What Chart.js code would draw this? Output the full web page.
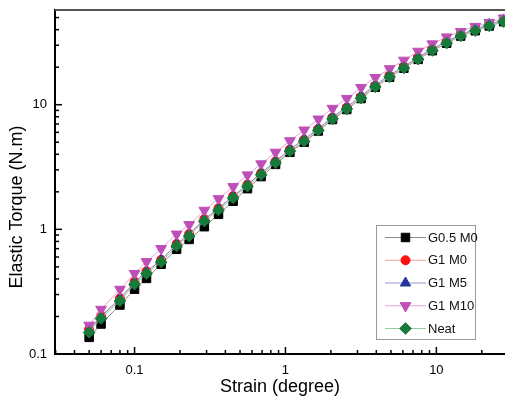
<!DOCTYPE html>
<html><head><meta charset="utf-8">
<script src="https://cdn.jsdelivr.net/npm/chart.js@4.4.1/dist/chart.umd.min.js"></script>
<style>html,body{margin:0;padding:0;background:#fff;}canvas{display:block;}</style>
</head><body>
<canvas id="c" width="505" height="400" style="width:505px;height:400px"></canvas>
<script>
// ---- data ----
const strain = [0.05, 0.06, 0.08, 0.1, 0.12, 0.15, 0.19, 0.23, 0.29, 0.36, 0.45, 0.56, 0.69, 0.86, 1.07,
                1.33, 1.65, 2.05, 2.55, 3.17, 3.94, 4.9, 6.09, 7.57, 9.4, 11.7, 14.5, 18.1, 22.4, 27.9];
const g05m0 = [0.136, 0.174, 0.247, 0.331, 0.404, 0.525, 0.692, 0.83, 1.05, 1.32, 1.68, 2.12, 2.65, 3.32, 4.15,
               5.0, 6.15, 7.6, 9.15, 11.2, 13.8, 16.6, 19.6, 23.1, 27.1, 31.1, 35.5, 39.2, 42.8, 46.3];
const g1m0  = [0.158, 0.203, 0.28, 0.38, 0.462, 0.57, 0.765, 0.92, 1.21, 1.48, 1.85, 2.29, 2.83, 3.52, 4.37,
               5.24, 6.4, 7.9, 9.5, 11.6, 14.2, 17.1, 20.2, 23.7, 27.8, 31.9, 36.3, 40.1, 43.7, 47.2];
const g1m5  = [0.155, 0.2, 0.276, 0.375, 0.456, 0.565, 0.757, 0.91, 1.2, 1.47, 1.84, 2.28, 2.83, 3.52, 4.4,
               5.28, 6.46, 7.98, 9.6, 11.75, 14.4, 17.3, 20.4, 24.0, 28.1, 32.2, 36.6, 40.4, 44.0, 47.6];
const g1m10 = [0.17, 0.228, 0.33, 0.442, 0.55, 0.70, 0.915, 1.09, 1.42, 1.76, 2.2, 2.73, 3.35, 4.15, 5.13,
               6.25, 7.66, 9.33, 11.2, 13.7, 16.5, 19.4, 22.7, 26.8, 30.7, 34.9, 38.6, 42.4, 45.6, 49.5];
const neat  = [0.149, 0.193, 0.267, 0.363, 0.442, 0.548, 0.735, 0.884, 1.165, 1.43, 1.79, 2.22, 2.75, 3.42, 4.25,
               5.09, 6.23, 7.69, 9.24, 11.3, 13.9, 16.7, 19.7, 23.2, 27.2, 31.2, 35.6, 39.3, 42.9, 46.4];
const seriesNames = ['G0.5 M0', 'G1 M0', 'G1 M5', 'G1 M10', 'Neat'];
const seriesValues = [g05m0, g1m0, g1m5, g1m10, neat];
const xTickLabels = [0.1, 1, 10];
const yTickLabels = [0.1, 1, 10];
const xTitle = 'Strain (degree)';
const yTitle = 'Elastic Torque (N.m)';

// ---- styles ----
const styles = [
  {marker:'#000000', line:'#8c8c8c', pointStyle:'rect', radius:6.0, rotation:0, order:5},
  {marker:'#ff1010', line:'#f4a0a0', pointStyle:'circle', radius:4.5, rotation:0, order:4},
  {marker:'#26359c', line:'#8e94d2', pointStyle:'triangle', radius:6.0, rotation:0, order:3},
  {marker:'#bf4fb8', line:'#e4a4e0', pointStyle:'triangle', radius:6.2, rotation:180, order:2},
  {marker:'#167a38', line:'#92cf9f', pointStyle:'rectRot', radius:5.8, rotation:0, order:1}
];
const FONT = 'Liberation Sans, Arial, sans-serif';

const datasets = seriesNames.map((name, i) => ({
  label: name,
  data: strain.map((x, k) => ({x: x, y: seriesValues[i][k]})),
  borderColor: styles[i].line,
  borderWidth: 1,
  backgroundColor: styles[i].marker,
  pointBackgroundColor: styles[i].marker,
  pointBorderColor: styles[i].marker,
  pointBorderWidth: 1,
  pointStyle: styles[i].pointStyle,
  pointRadius: styles[i].radius,
  pointRotation: styles[i].rotation,
  order: styles[i].order,
  tension: 0,
  fill: false
}));

function isLabel(v, list) {
  return list.some(t => Math.abs(Math.log10(v) - Math.log10(t)) < 1e-6);
}

const frameAndTicks = {
  id: 'frameAndTicks',
  beforeDatasetsDraw(chart) {
    const ctx = chart.ctx, a = chart.chartArea;
    ctx.save();
    ctx.strokeStyle = '#000';
    ctx.lineWidth = 1.5;
    const drawTicks = (scale, horizontal) => {
      const lo = Math.floor(Math.log10(scale.min)), hi = Math.ceil(Math.log10(scale.max));
      for (let e = lo; e <= hi; e++) {
        for (let m = 1; m <= 9; m++) {
          const v = m * Math.pow(10, e);
          if (v < scale.min * 0.9999 || v > scale.max * 1.0001) continue;
          const p = scale.getPixelForValue(v);
          const len = m === 1 ? 7 : 4;
          ctx.beginPath();
          if (horizontal) { ctx.moveTo(p, a.bottom); ctx.lineTo(p, a.bottom - len); }
          else { ctx.moveTo(a.left, p); ctx.lineTo(a.left + len, p); }
          ctx.stroke();
        }
      }
    };
    drawTicks(chart.scales.x, true);
    drawTicks(chart.scales.y, false);
    // top frame line
    ctx.strokeStyle = '#555';
    ctx.lineWidth = 2;
    ctx.beginPath(); ctx.moveTo(a.left, a.top); ctx.lineTo(a.right, a.top); ctx.stroke();
    ctx.restore();
  },
  afterDraw(chart) {
    const ctx = chart.ctx;
    // y axis title
    ctx.save();
    ctx.translate(17, 207);
    ctx.rotate(-Math.PI / 2);
    ctx.fillStyle = '#000';
    ctx.font = '18px ' + FONT;
    ctx.textAlign = 'center';
    ctx.textBaseline = 'middle';
    ctx.fillText(yTitle, 0, 0);
    ctx.restore();
    // legend box
    const bx = 376, by = 225, bw = 99, bh = 114, rowH = 22.75, firstY = 237.5;
    ctx.save();
    ctx.fillStyle = '#fff';
    ctx.fillRect(bx, by, bw, bh);
    ctx.strokeStyle = '#9a9a9a';
    ctx.lineWidth = 1;
    ctx.strokeRect(bx + 0.5, by + 0.5, bw, bh);
    seriesNames.forEach((name, i) => {
      const y = firstY + i * rowH;
      const st = styles[i];
      ctx.strokeStyle = st.line;
      ctx.lineWidth = 1;
      ctx.beginPath(); ctx.moveTo(385, y); ctx.lineTo(426, y); ctx.stroke();
      ctx.fillStyle = st.marker;
      ctx.strokeStyle = st.marker;
      Chart.helpers.drawPoint(ctx, {pointStyle: st.pointStyle, rotation: st.rotation, radius: st.radius, borderWidth: 1}, 405.5, y);
      ctx.fillStyle = '#111';
      ctx.font = '13px ' + FONT;
      ctx.textAlign = 'left';
      ctx.textBaseline = 'middle';
      ctx.fillText(name, 428, y + 0.5);
    });
    ctx.restore();
  }
};

new Chart(document.getElementById('c'), {
  type: 'line',
  data: {datasets: datasets},
  plugins: [frameAndTicks],
  options: {
    responsive: false,
    animation: false,
    devicePixelRatio: 1,
    layout: {autoPadding: false, padding: {top: 10, right: 0, left: 0, bottom: 0}},
    plugins: {legend: {display: false}, tooltip: {enabled: false}},
    elements: {line: {tension: 0}},
    scales: {
      x: {
        type: 'logarithmic', position: 'bottom', min: 0.0297, max: 28.5,
        grid: {display: false, drawTicks: false},
        border: {display: true, color: '#000', width: 2},
        ticks: {
          autoSkip: false, maxRotation: 0, padding: 9, color: '#000',
          font: {family: FONT, size: 13},
          callback: v => isLabel(v, xTickLabels) ? String(+v.toPrecision(3)) : ''
        },
        title: {display: true, text: xTitle, color: '#000', font: {family: FONT, size: 18}, padding: {top: 0, bottom: 2}},
        afterFit: s => { s.height = 46; s.paddingLeft = 0; s.paddingRight = 0; }
      },
      y: {
        type: 'logarithmic', position: 'left', min: 0.1, max: 57.5,
        grid: {display: false, drawTicks: false},
        border: {display: true, color: '#000', width: 2},
        ticks: {
          autoSkip: false, padding: 8, color: '#000',
          font: {family: FONT, size: 13},
          callback: v => isLabel(v, yTickLabels) ? String(+v.toPrecision(3)) : ''
        },
        afterFit: s => { s.width = 55; s.paddingTop = 0; s.paddingBottom = 0; }
      }
    }
  }
});
</script>
</body></html>
